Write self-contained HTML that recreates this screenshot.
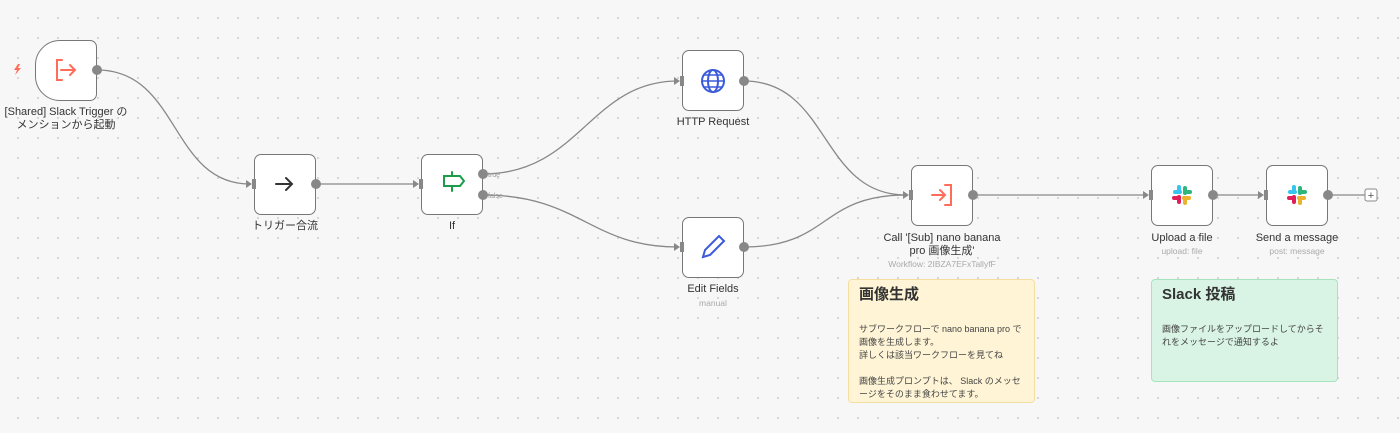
<!DOCTYPE html>
<html><head><meta charset="utf-8"><style>
body{margin:0;width:1400px;height:433px;overflow:hidden;background:#f7f7f7;
background-image:radial-gradient(circle,#cfcfcf 0.9px,transparent 1.1px);background-size:20px 20px;background-position:8px 8px;
font-family:"Liberation Sans","Noto Sans CJK JP",sans-serif;position:relative}
.n{position:absolute;width:62px;height:61px;background:#fff;border:1.5px solid #777;border-radius:7px;box-sizing:border-box}
.l{position:absolute;text-align:center;font-size:11px;color:#333;line-height:13px;width:200px}
.s{position:absolute;text-align:center;font-size:8.5px;color:#aaa;width:200px}
.note{position:absolute;box-sizing:border-box;border-radius:4px;padding:8px 10px;font-size:9px;color:#444;line-height:13px}
.note h3{margin:0 0 22px;font-size:15px;color:#333;font-weight:bold}
svg{position:absolute;left:0;top:0}
</style></head><body>
<div class="n" style="left:35px;top:40px;border-radius:25px 7px 7px 25px"></div>
<div class="n" style="left:254px;top:154px"></div>
<div class="n" style="left:421px;top:154px"></div>
<div class="n" style="left:682px;top:50px"></div>
<div class="n" style="left:682px;top:217px"></div>
<div class="n" style="left:911px;top:165px"></div>
<div class="n" style="left:1151px;top:165px"></div>
<div class="n" style="left:1266px;top:165px"></div>
<svg width="1400" height="433">
<g fill="none" stroke="#888" stroke-width="1.3">
<path d="M97 70 C180 70 170 184 250 184"/>
<path d="M316 184 L416 184"/>
<path d="M483 174 C580 174 590 81 678 81"/>
<path d="M483 195 C580 195 590 247 678 247"/>
<path d="M744 81 C830 81 820 195 906 195"/>
<path d="M744 247 C830 247 820 195 906 195"/>
<path d="M973 195 L1146 195"/>
<path d="M1213 195 L1261 195"/>
<path d="M1328 195 L1365 195"/>
</g>
<g fill="#888">
<polygon points="246,180 252,184 246,188"/><polygon points="413,180 419,184 413,188"/>
<polygon points="674,77 680,81 674,85"/><polygon points="674,243 680,247 674,251"/>
<polygon points="903,191 909,195 903,199"/><polygon points="1143,191 1149,195 1143,199"/><polygon points="1258,191 1264,195 1258,199"/>
</g>
<polygon points="18,64 14,70 17,70 15,75 21,68 18,68 20,64" fill="#ff6d5a"/>
<g fill="none" stroke="#ff6d5a" stroke-width="2" stroke-linecap="round">
<path d="M62 60 H57 V80 H62 M61 70 H75 M70 65 L75 70 L70 75"/>
<path d="M276 184 H292 M286 178 L292 184 L286 190" stroke="#333"/>
<path d="M444 176 H460 L464 181 L460 186 H444 Z M452 172 V176 M452 186 V191" stroke="#1a9c4a"/>
<circle cx="713" cy="81" r="11" stroke="#3b5bdb"/><ellipse cx="713" cy="81" rx="5" ry="11" stroke="#3b5bdb"/><path d="M702 81 H724 M704 75 H722 M704 87 H722" stroke="#3b5bdb" stroke-width="1.5"/>
<path d="M703 257 L705 250 L719 236 L724 241 L710 255 Z" stroke="#3b5bdb"/>
<path d="M945 185 H951 V205 H945 M932 195 H945 M940 190 L945 195 L940 200" stroke="#ff6d5a"/>
</g>
<g fill="#888"><circle cx="97" cy="70" r="5"/><circle cx="316" cy="184" r="5"/><circle cx="483" cy="174" r="5"/><circle cx="483" cy="195" r="5"/><circle cx="744" cy="81" r="5"/><circle cx="744" cy="247" r="5"/><circle cx="973" cy="195" r="5"/><circle cx="1213" cy="195" r="5"/><circle cx="1328" cy="195" r="5"/>
<rect x="252" y="179" width="4" height="10"/><rect x="419" y="179" width="4" height="10"/><rect x="680" y="76" width="4" height="10"/><rect x="680" y="242" width="4" height="10"/><rect x="909" y="190" width="4" height="10"/><rect x="1149" y="190" width="4" height="10"/><rect x="1264" y="190" width="4" height="10"/></g>
<rect x="1365" y="189" width="12" height="12" rx="2" fill="#fff" stroke="#888"/>
<text x="1371" y="199" font-size="11" text-anchor="middle" fill="#555" font-family="Liberation Sans">+</text>
<text x="488" y="177" font-size="7" fill="#999" font-family="Liberation Sans">true</text>
<text x="488" y="198" font-size="7" fill="#999" font-family="Liberation Sans">false</text>
<g stroke-width="4" stroke-linecap="round">
<g transform="translate(1182,195)"><path d="M-7 -3 H-2" stroke="#36c5f0"/><path d="M3 -7 V-2" stroke="#2eb67d"/><path d="M7 3 H2" stroke="#ecb22e"/><path d="M-3 7 V2" stroke="#e01e5a"/><path d="M-3 -8 V-4" stroke="#36c5f0"/><path d="M8 -3 H4" stroke="#2eb67d"/><path d="M3 8 V4" stroke="#ecb22e"/><path d="M-8 3 H-4" stroke="#e01e5a"/></g>
<g transform="translate(1297,195)"><path d="M-7 -3 H-2" stroke="#36c5f0"/><path d="M3 -7 V-2" stroke="#2eb67d"/><path d="M7 3 H2" stroke="#ecb22e"/><path d="M-3 7 V2" stroke="#e01e5a"/><path d="M-3 -8 V-4" stroke="#36c5f0"/><path d="M8 -3 H4" stroke="#2eb67d"/><path d="M3 8 V4" stroke="#ecb22e"/><path d="M-8 3 H-4" stroke="#e01e5a"/></g>
</g></svg>
<div class="l" style="left:-34px;top:106px">[Shared] Slack Trigger の<br>メンションから起動</div>
<div class="l" style="left:185px;top:220px">トリガー合流</div>
<div class="l" style="left:352px;top:220px">If</div>
<div class="l" style="left:613px;top:116px">HTTP Request</div>
<div class="l" style="left:613px;top:283px">Edit Fields</div>
<div class="s" style="left:613px;top:298px">manual</div>
<div class="l" style="left:842px;top:232px">Call '[Sub] nano banana<br>pro 画像生成'</div>
<div class="s" style="left:842px;top:259px">Workflow: 2IBZA7EFxTallyfF</div>
<div class="l" style="left:1082px;top:232px">Upload a file</div>
<div class="s" style="left:1082px;top:246px">upload: file</div>
<div class="l" style="left:1197px;top:232px">Send a message</div>
<div class="s" style="left:1197px;top:246px">post: message</div>
<div class="note" style="left:848px;top:279px;width:187px;height:124px;background:#fff5d6;border:1px solid #f5dfa0"><h3>画像生成</h3>サブワークフローで nano banana pro で画像を生成します。<br>詳しくは該当ワークフローを見てね<br><br>画像生成プロンプトは、 Slack のメッセージをそのまま食わせてます。</div>
<div class="note" style="left:1151px;top:279px;width:187px;height:103px;background:#d9f4e4;border:1px solid #a6e4c0"><h3>Slack 投稿</h3>画像ファイルをアップロードしてからそれをメッセージで通知するよ</div>
</body></html>
